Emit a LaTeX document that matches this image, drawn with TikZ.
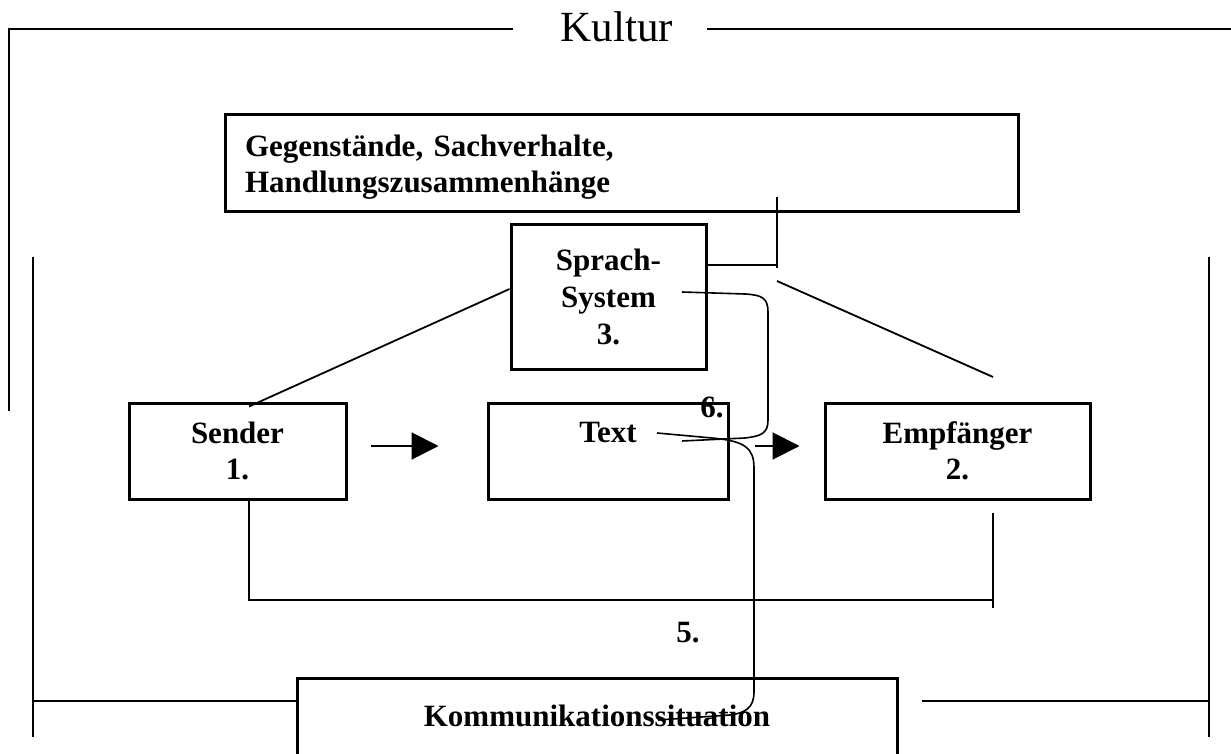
\documentclass[tikz,border=0pt]{standalone}
\usepackage{fontspec}
\setmainfont{Liberation Serif}
\usetikzlibrary{arrows.meta,calc}
\begin{document}
\begin{tikzpicture}[x=0.5pt,y=-0.5pt,
  boxtext/.style={font=\fontsize{15.5}{18}\selectfont\bfseries},
  box/.style={draw,line width=1.5pt,inner sep=0pt,boxtext,align=center},
  frameline/.style={line width=1pt},
  link/.style={line width=0.9pt},
  loop/.style={line width=0.8pt},
  flow/.style={line width=1pt,-{Triangle[length=13.5pt,width=13.5pt]}},
  numlabel/.style={boxtext,inner sep=0pt,anchor=base}
]
\useasboundingbox (0,0) rectangle (1231,754);
\clip (0,0) rectangle (1231,754);

% outer frame: Kultur
\node[font=\fontsize{21.5}{25}\selectfont,anchor=base,inner sep=0pt] (kultur) at (617,42) {Kultur};
\coordinate (kl) at (513,29);
\coordinate (kr) at (707,29);
\draw[frameline] (kl) -- (9,29) -- (9,411);
\draw[frameline] (kr) -- (1231,29);

% boxes
\node[box,minimum width=396.5pt,minimum height=48.5pt,text width=376.5pt,align=left,
      text height=14pt] (gg) at (621.5,163.5)
  {Gegenstände, Sachverhalte,\\Handlungszusammenhänge};
\node[box,minimum width=97.5pt,minimum height=72pt,font=\fontsize{15.5}{18.5}\selectfont\bfseries] (sprach) at (608.5,297)
  {Sprach-\\System\\3.};
\node[box,minimum width=108.5pt,minimum height=48pt] (sender) at (237.5,451) {Sender\\1.};
\node[box,minimum width=120pt,minimum height=48pt] (text) at (608,451) {Text\\\phantom{1.}};
\node[box,minimum width=132.5pt,minimum height=48pt] (empf) at (957.5,451) {Empfänger\\2.};
\node[box,anchor=north,minimum width=300pt,inner ysep=14pt,text height=10pt,text depth=40pt] (komm) at (597,677)
  {Kommunikationssituation};

% inner frame: communication situation
\draw[frameline] (33,257) -- (33,737);
\draw[frameline] (33,701) -- (komm.west |- 0,701);
\draw[frameline] (1209,257) -- (1209,737);
\draw[frameline] (922,701) -- (1209,701);

% connectors
\draw[link] (777,197) -- (777,268);
\draw[link] (sprach.east |- 0,265) -- (777,265);
\draw[link] (sprach.west |- 0,289) -- ($(sender.north)+(11.5,5)$);
\draw[link] (777,281) -- (993,377);
\draw[flow] ($(sender.east)+(23,-5)$) -- ($(text.west)+(-48,-5)$);
\draw[flow] ($(text.east)+(25,-5)$) -- ($(empf.west)+(-24,-5)$);
\draw[link] (sender.south -| 249,0) -- (249,600) -- (993,600);
\draw[link] (993,513) -- (993,608);

% brackets 6. and 5.
\draw[loop] ($(sprach.center)+(73.5,-5)$) -- (745,294)
  .. controls (762,295) and (768,298) .. (768,312) -- (768,420)
  .. controls (768,433) and (762,436) .. (745,438) -- ($(text.center)+(74,-10)$);
\draw[loop] ($(text.center)+(49,-18)$) -- (712,438)
  .. controls (745,441) and (754,448) .. (754,468) -- (754,692)
  .. controls (754,708) and (745,713) .. (730,715) -- ($(komm.north)+(61,43)$);

\node[numlabel] (six) at (712,417) {6.};
\node[numlabel] (five) at (688,642) {5.};
\end{tikzpicture}
\end{document}
